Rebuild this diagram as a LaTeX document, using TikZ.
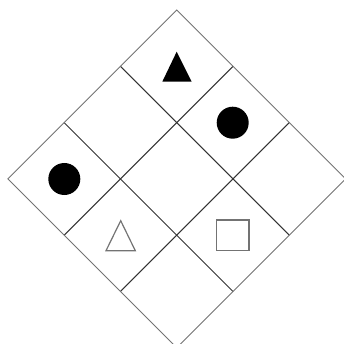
\documentclass[tikz,border=0pt]{standalone}
\begin{document}
\begin{tikzpicture}[x=1pt,y=-1pt,
  outerline/.style={draw=black!55, line width=0.9pt},
  innerline/.style={draw=black!80, line width=1pt},
  solidmark/.style={fill=black, draw=none},
  hollowmark/.style={draw=black!55, line width=1.2pt, fill=white}]
\useasboundingbox (0,0) rectangle (344,344);
\begin{scope}[shift={(176.7pt,-10pt)}, x={(56.3pt,-56.3pt)}, y={(-56.3pt,-56.3pt)}]
  \foreach \k in {1,2} {
    \draw[innerline] (0,\k) -- (3,\k);
    \draw[innerline] (\k,0) -- (\k,3);
  }
  \draw[outerline] (0,0) -- (3,0) -- (3,3) -- (0,3) -- cycle;
\end{scope}
\fill[solidmark] (176.7,51.7) -- (191.7,81.7) -- (162.3,81.7) -- cycle;
\fill[solidmark] (232.7,122.7) circle[radius=16pt];
\fill[solidmark] (64.3,179) circle[radius=16pt];
\draw[hollowmark] (120.7,220.7) -- (135.3,250.7) -- (106,250.7) -- cycle;
\draw[hollowmark] (216.7,220) rectangle (249,250.7);
\end{tikzpicture}
\end{document}
